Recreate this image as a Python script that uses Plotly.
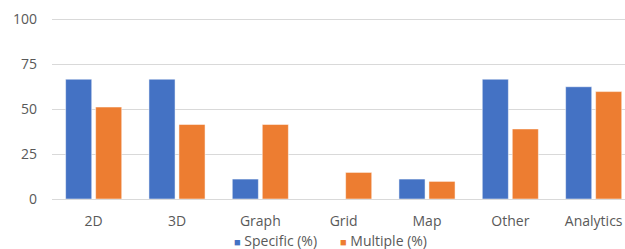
import plotly.graph_objects as go

categories = ["2D", "3D", "Graph", "Grid", "Map", "Other", "Analytics"]
specific = [66.7, 66.7, 11.1, 0, 11.1, 66.7, 62.5]
multiple = [51.2, 41.5, 41.5, 14.8, 9.8, 39.0, 59.8]
y_ticks = [0, 25, 50, 75, 100]
series_names = ["Specific (%)", "Multiple (%)"]
series_colors = ["#4472C4", "#ED7D31"]

fig = go.Figure()
for name, vals, col in zip(series_names, [specific, multiple], series_colors):
    fig.add_trace(go.Bar(name=name, x=categories, y=vals,
                         marker=dict(color=col, line=dict(color="#ffffff", width=0.5))))

font = dict(family="Open Sans, Carlito, Liberation Sans, sans-serif", size=14, color="#595959")

fig.update_layout(
    width=625, height=249,
    margin=dict(l=52, r=0, t=14, b=50),
    paper_bgcolor="white", plot_bgcolor="white",
    barmode="group", bargap=0.28, bargroupgap=0.13,
    font=font,
    showlegend=False,
    xaxis=dict(range=[-0.5, 6.376], showgrid=False, showline=False, zeroline=False,
               ticks="", ticklabelstandoff=12, tickfont=font),
    yaxis=dict(range=[0, 103], tickvals=y_ticks, showgrid=True, gridcolor="#d9d9d9",
               gridwidth=1, zeroline=True, zerolinecolor="#d9d9d9", zerolinewidth=1,
               showline=False, ticks="", ticklabelstandoff=14, tickfont=font),
)

# legend drawn as text items (compact, like the reference)
legend_x = [0.314, 0.499]
for name, col, lx in zip(series_names, series_colors, legend_x):
    fig.add_annotation(
        x=lx, y=-0.222, xref="paper", yref="paper", xanchor="left", yanchor="middle",
        showarrow=False,
        text=f"<span style='color:{col};font-size:11px'>■</span> {name}",
        font=font,
    )

fig.write_html("out.html", config={"displayModeBar": False},
               post_script="document.body.style.margin='0';document.body.style.overflow='hidden';")
